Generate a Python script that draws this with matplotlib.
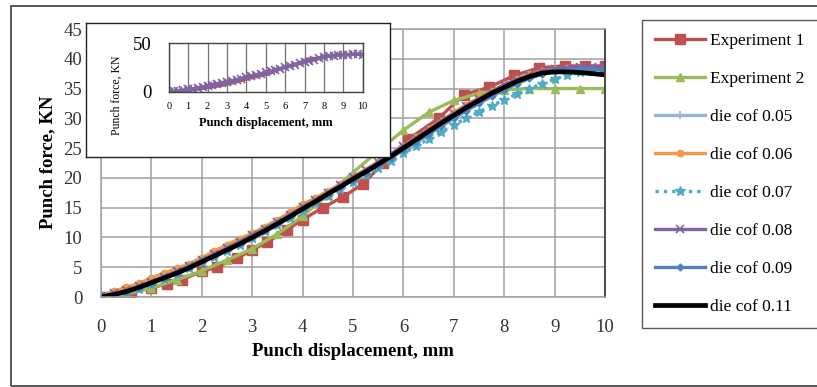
import matplotlib
matplotlib.use("Agg")
import matplotlib.pyplot as plt
from matplotlib.patches import Rectangle

plt.rcParams['font.family'] = ['Liberation Serif', 'DejaVu Serif']

# ---------------- data ----------------
x_sim = [0, 0.25, 0.5, 0.75, 1, 1.25, 1.5, 1.75, 2, 2.25, 2.5, 2.75, 3, 3.25, 3.5, 3.75,
         4, 4.25, 4.5, 4.75, 5, 5.25, 5.5, 5.75, 6, 6.25, 6.5, 6.75, 7, 7.25, 7.5, 7.75,
         8, 8.25, 8.5, 8.75, 9, 9.25, 9.5, 9.75, 10]

cof_005 = [0, 0.5, 1.0, 1.7, 2.5, 3.3, 4.1, 5.0, 6.0, 7.0, 8.0, 9.1, 10.2, 11.3, 12.5, 13.7,
           15.0, 16.2, 17.5, 18.7, 20.0, 21.2, 22.5, 23.8, 25.2, 26.5, 27.9, 29.2, 30.5, 31.7,
           32.9, 34.0, 35.1, 36.1, 36.9, 37.5, 37.9, 38.1, 38.2, 38.2, 38.1]
cof_006 = [0.2, 1.0, 1.6, 2.3, 3.2, 4.0, 4.8, 5.6, 6.6, 7.7, 8.8, 9.8, 10.7, 11.8, 13.0, 14.2,
           15.6, 16.6, 17.8, 19.0, 20.2, 21.4, 22.7, 24.0, 25.4, 26.8, 28.2, 29.6, 31.0, 32.3,
           33.5, 34.6, 35.6, 36.6, 37.4, 38.0, 38.3, 38.4, 38.4, 38.3, 38.2]
cof_007 = [0, 0.3, 0.8, 1.4, 2.2, 3.0, 3.9, 4.8, 5.8, 6.8, 7.8, 8.8, 9.9, 11.0, 12.1, 13.3,
           14.5, 15.7, 16.9, 18.1, 19.3, 20.5, 21.7, 22.9, 24.1, 25.3, 26.5, 27.7, 28.9, 30.0,
           31.1, 32.1, 33.1, 34.1, 35.0, 35.8, 36.6, 37.2, 37.7, 38.0, 38.2]
cof_008 = [0.1, 0.6, 1.1, 1.8, 2.6, 3.4, 4.3, 5.2, 6.2, 7.2, 8.2, 9.3, 10.4, 11.5, 12.6, 13.8,
           15.1, 16.3, 17.5, 18.8, 20.1, 21.3, 22.6, 24.0, 25.3, 26.7, 28.1, 29.5, 30.8, 32.1,
           33.3, 34.5, 35.6, 36.5, 37.3, 37.9, 38.3, 38.5, 38.6, 38.6, 38.5]
cof_009 = [0, 0.4, 0.9, 1.6, 2.4, 3.2, 4.1, 5.0, 6.0, 7.0, 8.0, 9.0, 10.1, 11.2, 12.4, 13.6,
           14.9, 16.1, 17.3, 18.5, 19.7, 20.9, 22.1, 23.4, 24.7, 26.0, 27.3, 28.7, 30.0, 31.3,
           32.5, 33.7, 34.8, 35.8, 36.7, 37.4, 37.9, 38.1, 38.2, 38.2, 38.2]
cof_011 = [0, 0.4, 0.9, 1.6, 2.4, 3.2, 4.0, 4.9, 5.9, 6.9, 7.9, 8.9, 10.0, 11.1, 12.3, 13.5,
           14.8, 16.0, 17.3, 18.5, 19.8, 21.0, 22.3, 23.6, 25.0, 26.4, 27.8, 29.2, 30.5, 31.8,
           33.0, 34.2, 35.2, 36.2, 37.0, 37.6, 37.8, 37.8, 37.7, 37.5, 37.3]

x_exp1 = [0, 0.3, 0.6, 1.0, 1.3, 1.6, 2.0, 2.3, 2.7, 3.0, 3.3, 3.7, 4.0, 4.4, 4.8, 5.2,
          5.6, 6.1, 6.7, 7.2, 7.7, 8.2, 8.7, 9.2, 9.6, 10.0]
exp1 = [0, 0.3, 0.8, 1.5, 2.2, 2.9, 4.3, 5.0, 6.5, 7.9, 9.2, 11.3, 13.0, 15.0, 16.8, 19.0,
        22.5, 26.5, 30.0, 34.0, 35.2, 37.2, 38.5, 38.8, 38.8, 38.8]

x_exp2 = [0, 0.5, 1, 1.5, 2, 2.5, 3, 3.5, 4, 4.5, 5, 5.5, 6, 6.5, 7, 7.5, 8, 8.5, 9, 9.5, 10]
exp2 = [0, 0.5, 1.5, 2.9, 4.4, 6.2, 8.1, 10.6, 13.6, 17.2, 20.9, 24.5, 28.0, 31.0, 33.0,
        34.2, 34.8, 35.0, 35.0, 35.0, 35.0]

x_ticks = [0, 1, 2, 3, 4, 5, 6, 7, 8, 9, 10]
y_ticks = [0, 5, 10, 15, 20, 25, 30, 35, 40, 45]
inset_y_ticks = [0, 50]

# ---------------- figure ----------------
W, H = 817, 387
fig = plt.figure(figsize=(W / 100, H / 100), dpi=100)


def fbox(x0, y0, x1, y1):
    return [x0 / W, 1 - y1 / H, (x1 - x0) / W, (y1 - y0) / H]


# outer chart border
fig.add_artist(Rectangle((10.5 / W, 1 - 385.5 / H), (840 - 10.5) / W, (385.5 - 6) / H,
                         transform=fig.transFigure, fill=False, edgecolor='#3a3a3a', lw=1.2))

ax = fig.add_axes(fbox(101, 29, 605, 297))
lw = 2.4
ax.plot(x_exp1, exp1, color='#C0504D', lw=lw, marker='s', ms=6.5, label='Experiment 1')
ax.plot(x_exp2, exp2, color='#9BBB59', lw=lw, marker='^', ms=6, label='Experiment 2')
ax.plot(x_sim, cof_005, color='#95B3D7', lw=lw, marker='+', ms=6, mew=1.2, label='die cof 0.05')
ax.plot(x_sim, cof_006, color='#F79646', lw=lw, marker='o', ms=4.5, label='die cof 0.06')
ax.plot(x_sim, cof_007, color='#4BACC6', lw=2.4, ls=(0, (1, 1.5)), marker='*', ms=7, label='die cof 0.07')
ax.plot(x_sim, cof_008, color='#8064A2', lw=lw, marker='x', ms=5.5, mew=1.2, label='die cof 0.08')
ax.plot(x_sim, cof_009, color='#4F81BD', lw=lw, marker='D', ms=3.5, label='die cof 0.09')
ax.plot(x_sim, cof_011, color='black', lw=3.4, label='die cof 0.11')

ax.set_xlim(0, 10)
ax.set_ylim(0, 45)
ax.set_xticks(x_ticks)
ax.set_yticks(y_ticks)
ax.grid(True, color='#A0A0A0', lw=1.1)
ax.set_axisbelow(True)
ax.tick_params(length=0, labelsize=13.5, colors='#333333')
ax.tick_params(axis='y', pad=13.5)
ax.tick_params(axis='x', pad=16)
for s in ['left', 'bottom', 'top']:
    ax.spines[s].set_color('#A0A0A0')
    ax.spines[s].set_linewidth(1.1)
ax.spines['right'].set_color('#404040')
ax.spines['right'].set_linewidth(1.3)

ax.set_xlabel('Punch displacement, mm', fontsize=13.5, fontweight='bold')
ax.set_ylabel('Punch force, KN', fontsize=13.5, fontweight='bold')
ax.xaxis.set_label_coords((352.5 - 101) / 504, (297 - 351.7) / 268)
ax.xaxis.label.set_va('center')
ax.yaxis.set_label_coords((48 - 101) / 504, (297 - 162.5) / 268)
ax.yaxis.label.set_va('center')

leg = ax.legend(loc='upper left', bbox_to_anchor=(642 / W, 1 - 20 / H),
                bbox_transform=fig.transFigure, fontsize=12.5, frameon=True,
                fancybox=False, edgecolor='#303030', borderpad=0.74, labelspacing=1.26,
                handlelength=2.9, handletextpad=0.3, borderaxespad=0)
leg.get_frame().set_linewidth(1.0)

# inset frame
axf = fig.add_axes(fbox(86, 23, 390, 157))
axf.set_xticks([])
axf.set_yticks([])
axf.set_facecolor('white')
for s in axf.spines.values():
    s.set_color('#202020')
    s.set_linewidth(1.0)
axf.set_zorder(5)

axi = fig.add_axes(fbox(168.7, 43.3, 362.7, 92))
axi.set_zorder(6)
axi.plot(x_exp1, exp1, color='#C0504D', lw=2.0)
axi.plot(x_sim, cof_008, color='#8064A2', lw=2.4, marker='x', ms=6, mew=1.2)
axi.set_xlim(0, 10)
axi.set_ylim(0, 50)
axi.set_xticks(x_ticks)
axi.set_yticks(inset_y_ticks)
axi.grid(True, axis='x', color='#707070', lw=0.9)
axi.set_axisbelow(True)
axi.tick_params(length=0)
axi.tick_params(axis='x', labelsize=7.5, pad=7)
axi.tick_params(axis='y', labelsize=13.5, pad=12)
for s in axi.spines.values():
    s.set_color('#404040')
    s.set_linewidth(1.0)
axi.set_xlabel('Punch displacement, mm', fontsize=9, fontweight='bold')
axi.set_ylabel('Punch force, KN', fontsize=8.5)
axi.xaxis.set_label_coords((265.5 - 168.7) / 194, (92 - 123) / 48.7)
axi.xaxis.label.set_va('center')
axi.yaxis.set_label_coords((117 - 168.7) / 194, (92 - 95) / 48.7)
axi.yaxis.label.set_va('center')

fig.savefig('out.png', dpi=100)
